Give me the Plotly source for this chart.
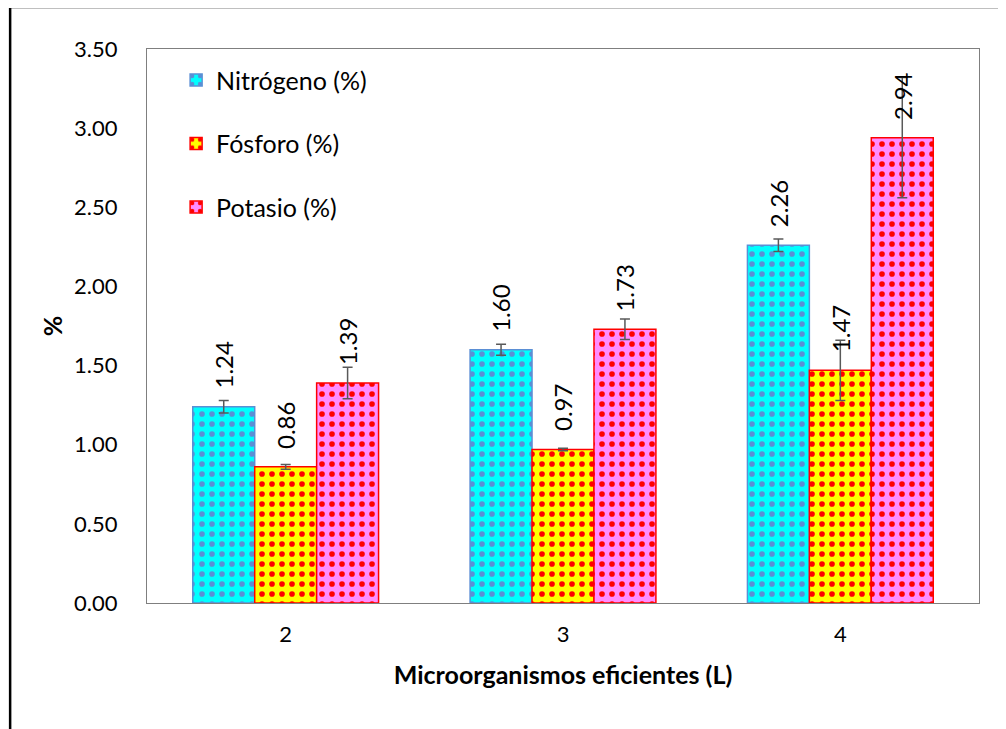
import plotly.graph_objects as go

categories = ["2", "3", "4"]
series_names = ["Nitrógeno (%)", "Fósforo (%)", "Potasio (%)"]
nitrogeno = [1.24, 1.60, 2.26]
fosforo = [0.86, 0.97, 1.47]
potasio = [1.39, 1.73, 2.94]
err_nitrogeno = [0.04, 0.035, 0.04]
err_fosforo = [0.015, 0.008, 0.19]
err_potasio = [0.10, 0.065, 0.38]

values = [nitrogeno, fosforo, potasio]
errors = [err_nitrogeno, err_fosforo, err_potasio]
bg_colors = ["#00FFFF", "#FFFF00", "#FF8CFF"]
fg_colors = ["#5B8FD5", "#FF0000", "#FF0000"]
line_colors = ["#5B8FD5", "#FF0000", "#FF0000"]

FONT = "Lato"
FS_TICK = 22
FS = 25
BARGAP = 0.33

fig = go.Figure()
for j in range(3):
    fig.add_trace(go.Bar(
        x=categories, y=values[j], name=series_names[j],
        legendgroup=series_names[j],
        marker=dict(
            color=bg_colors[j],
            line=dict(color=line_colors[j], width=1.5),
            pattern=dict(shape=".", fgcolor=fg_colors[j], bgcolor=bg_colors[j],
                         size=10, solidity=0.25, fillmode="replace"),
        ),
        error_y=dict(type="data", array=errors[j], color="#595959",
                     thickness=1.5, width=5),
    ))

# data labels (rotated), placed above each bar
bw = (1 - BARGAP) / 3
annotations = []
for j in range(3):
    for i, v in enumerate(values[j]):
        annotations.append(dict(
            x=i + (j - 1) * bw, y=v, xref="x", yref="y",
            text=f"{v:.2f}", showarrow=False, textangle=-90,
            xanchor="center", yanchor="bottom", yshift=16,
            font=dict(family=FONT, size=24, color="black"),
        ))

fig.update_layout(
    width=1006, height=729,
    margin=dict(l=139, r=35, t=41, b=134),
    paper_bgcolor="white", plot_bgcolor="white",
    barmode="group", bargap=BARGAP, bargroupgap=0,
    font=dict(family=FONT, size=FS, color="black"),
    showlegend=True,
    legend=dict(x=0.035, y=0.985, xanchor="left", yanchor="top",
                bgcolor="rgba(0,0,0,0)", tracegroupgap=28,
                font=dict(family=FONT, size=FS, color="black")),
    annotations=annotations,
    xaxis=dict(type="category", showline=True, mirror=True, linecolor="#7F7F7F",
               linewidth=1, ticks="", showgrid=False, ticklabelstandoff=12,
               tickfont=dict(family=FONT, size=FS_TICK),
               title=dict(text="<b>Microorganismos eficientes (L)</b>",
                          font=dict(family=FONT, size=FS), standoff=20)),
    yaxis=dict(range=[0, 3.5], dtick=0.5, tickformat=".2f", showline=True,
               mirror=True, linecolor="#7F7F7F", linewidth=1, ticks="",
               showgrid=False, zeroline=False, ticklabelstandoff=24,
               tickfont=dict(family=FONT, size=FS_TICK),
               title=dict(text="<b>%</b>", font=dict(family=FONT, size=FS), standoff=4)),
    shapes=[dict(type="path", xref="paper", yref="paper",
                 path="M -0.1645,-0.3 L -0.1645,1.0758 L 1.2,1.0758",
                 line=dict(color="black", width=2.5))],
)

fig.write_html("out.html")
